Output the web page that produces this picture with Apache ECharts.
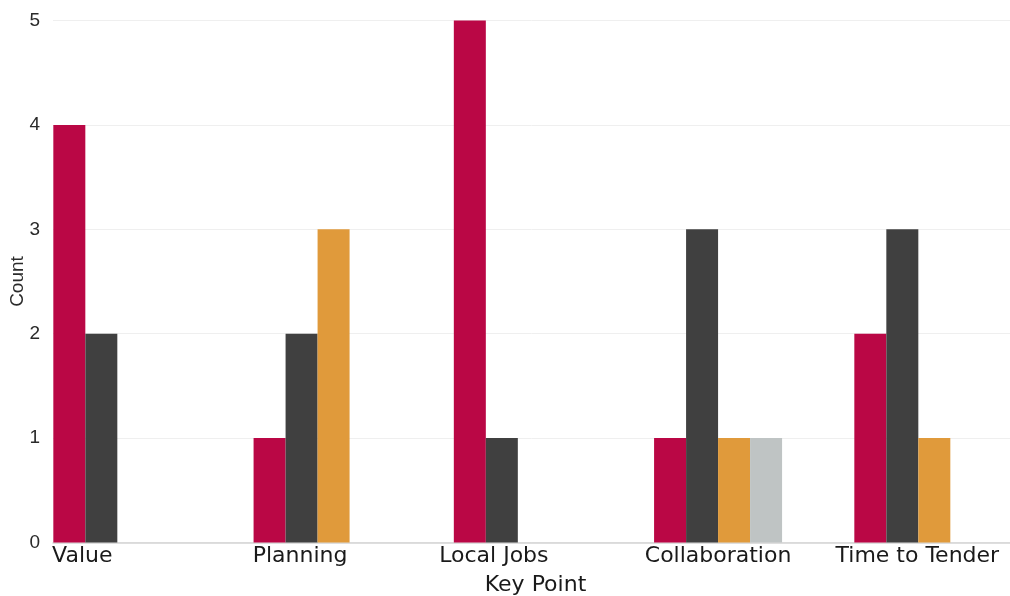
<!DOCTYPE html>
<html>
<head>
<meta charset="utf-8">
<script src="https://cdn.jsdelivr.net/npm/echarts@6/dist/echarts.min.js"></script>
<style>
  html, body { margin: 0; padding: 0; background: #ffffff; }
  #chart { width: 1010px; height: 596px; }
</style>
</head>
<body>
<div id="chart"></div>
<script>
// Key points and the count for each response group
const categories = ['Value', 'Planning', 'Local Jobs', 'Collaboration', 'Time to Tender'];
const seriesNames = ['Group 1', 'Group 2', 'Group 3', 'Group 4'];
const group1 = [4, 1, 5, 1, 2];
const group2 = [2, 2, 1, 3, 3];
const group3 = [0, 3, 0, 1, 1];
const group4 = [0, 0, 0, 1, 0];
const yTicks = [0, 1, 2, 3, 4, 5];

const seriesValues = [group1, group2, group3, group4];
const colors = ['#BA0745', '#404040', '#E09A3B', '#BFC4C4'];

// extra right padding that nudges each category label leftwards
const labelNudge = [70, 35, 48, 0, 2];
const rich = {};
labelNudge.forEach((p, i) => {
  rich['c' + i] = {
    padding: [0, p, 0, 0],
    fontFamily: 'DejaVu Sans',
    fontSize: 22,
    color: '#1a1a1a'
  };
});

const chart = echarts.init(document.getElementById('chart'), null, { renderer: 'canvas' });

const option = {
  animation: false,
  backgroundColor: '#ffffff',
  grid: [
    // frame: gridlines, value axis, axis titles
    { left: 53, right: 0, top: 20.5, height: 522, outerBoundsMode: 'none', containLabel: false },
    // bar bands
    { left: 17.2, width: 1001.25, top: 20.5, height: 522, outerBoundsMode: 'none', containLabel: false }
  ],
  xAxis: [
    {
      gridIndex: 0,
      type: 'value',
      min: 0,
      max: 1,
      axisLine: { show: true, lineStyle: { color: '#d4d4d4', width: 1.5 } },
      axisTick: { show: false },
      axisLabel: { show: false },
      splitLine: { show: false },
      name: 'Key Point',
      nameLocation: 'middle',
      nameGap: 32,
      nameMoveOverlap: false,
      nameTextStyle: {
        fontFamily: 'DejaVu Sans',
        fontSize: 22,
        color: '#1a1a1a',
        padding: [0, 0, 0, 8]
      }
    },
    {
      gridIndex: 1,
      type: 'category',
      data: categories,
      boundaryGap: true,
      axisLine: { show: false },
      axisTick: { show: false },
      splitLine: { show: false },
      axisLabel: {
        interval: 0,
        margin: 3,
        formatter: (v, i) => '{c' + i + '|' + v + '}',
        rich: rich
      }
    }
  ],
  yAxis: [
    {
      gridIndex: 0,
      type: 'value',
      min: yTicks[0],
      max: yTicks[yTicks.length - 1],
      interval: 1,
      axisLine: { show: false },
      axisTick: { show: false },
      axisLabel: {
        margin: 13,
        fontFamily: 'Liberation Sans',
        fontSize: 19,
        color: '#2a2a2a'
      },
      splitLine: { show: true, lineStyle: { color: '#efefef', width: 1 } },
      name: 'Count',
      nameLocation: 'middle',
      nameGap: 26,
      nameMoveOverlap: false,
      nameTextStyle: { fontFamily: 'Liberation Sans', fontSize: 19, color: '#2a2a2a' }
    },
    {
      gridIndex: 1,
      type: 'value',
      min: yTicks[0],
      max: yTicks[yTicks.length - 1],
      show: false
    }
  ],
  series: seriesNames.map((name, i) => ({
    name: name,
    type: 'bar',
    xAxisIndex: 1,
    yAxisIndex: 1,
    data: seriesValues[i],
    barWidth: 32,
    barGap: '0%',
    itemStyle: { color: colors[i] }
  }))
};

chart.setOption(option);
</script>
</body>
</html>
